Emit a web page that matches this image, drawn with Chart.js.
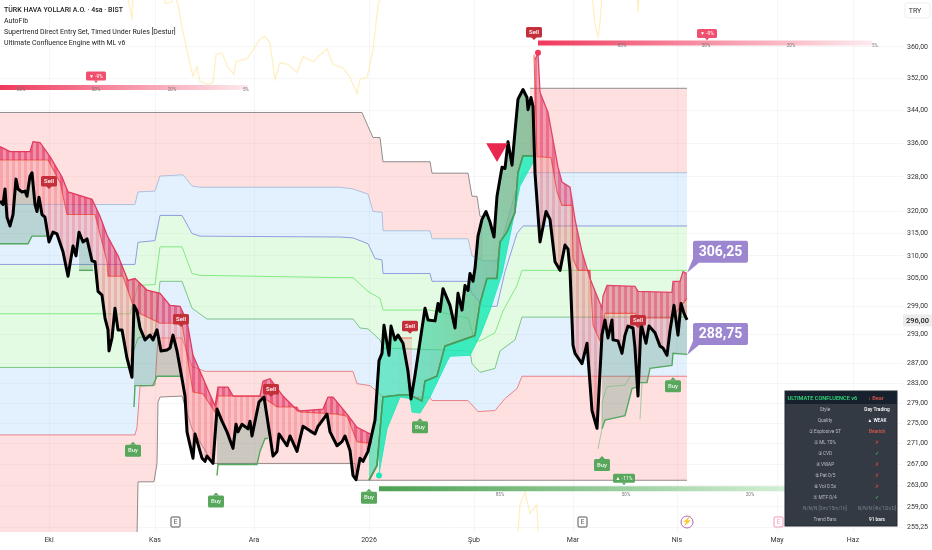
<!DOCTYPE html>
<html>
<head>
<meta charset="utf-8">
<style>
  html, body { margin: 0; padding: 0; background: #fff; }
  canvas { display: block; }
</style>
<script src="https://cdn.jsdelivr.net/npm/chart.js@4/dist/chart.umd.min.js"></script>
</head>
<body>
<canvas id="chart" width="932" height="550"></canvas>
<script>
// all series are [bar, price] pairs, bars are 4h candles counted from the left edge
const monthBars = [24.5, 77.5, 127, 184.5, 237, 286.5, 338.5, 388.5, 426.5];
const monthLabels = ['Eki', 'Kas', 'Ara', '2026', 'Şub', 'Mar', 'Nis', 'May', 'Haz'];
const priceTicks = [360, 352, 344, 336, 328, 320, 315, 310, 305, 299, 293, 287, 283, 279, 275, 271, 267, 263, 259, 255.25];

const closeSeries = [[0,322.4],[1.5,321.6],[2.5,325.2],[3.5,318.7],[5,316.7],[6.5,319.3],[8,327.5],[9,325.2],[11,324.5],[12.5,324.7],[13.5,323.5],[15,328.2],[16,329],[17.5,321.6],[18.5,320],[19.5,323.3],[21,319.3],[22.5,318.7],[24.5,313.1],[26.5,315.3],[28.5,314.9],[31.5,310.9],[34,305.5],[36.5,312.2],[38,310],[39.5,315.3],[41.5,313.1],[43.5,313.8],[46,308.9],[47.5,308.7],[49,302.2],[51,301.4],[52.5,296.5],[54,294],[54.5,289.6],[56,292.3],[57.5,298.6],[59,294],[61,294],[63.5,288.1],[66,284.2],[67,299.2],[68.5,298],[70,294.4],[72.5,291.9],[75,292.9],[76.5,291.9],[78.5,294],[80.5,289.6],[83.5,289.8],[85,290.2],[86.5,292.9],[88.5,289.6],[91,283.9],[92.5,280.4],[93.5,273.3],[96.5,268.2],[97.5,272.9],[101,268.2],[102.5,267.6],[103.5,268.6],[106.5,267.2],[108.5,277.8],[111,275.4],[113.5,273.3],[116.5,270.1],[118,274.8],[119,273.3],[121,274.8],[124,273.9],[125,275.4],[126,272.5],[129.5,279.2],[132,280.2],[135,272.5],[136.5,268.6],[138.5,269.5],[139.5,272.9],[143.5,270.6],[145,272.5],[148.5,269.5],[150,272],[151.5,274.4],[155,273.5],[157.5,272.9],[159,274.4],[163.5,276.8],[165,273.3],[168.5,270.6],[171,271.4],[172.5,272.5],[175,269.7],[176.5,264.9],[178,264.1],[180,268.2],[181.5,267.6],[184,269.5],[187.5,275.6],[189.5,287.6],[191,289.1],[192,295],[194.5,288.7],[195.5,294.8],[197.5,291.9],[199,292.9],[201.5,291.2],[204,285.4],[205.5,279.8],[207.5,284.6],[212.5,298.6],[214,296.1],[217.5,295.9],[219,299.6],[220,297.9],[221.5,302.8],[225,299.2],[227.5,294.4],[229,301.8],[231,298.2],[232.5,303.5],[234,302.4],[235,306.1],[236.5,304.4],[237.5,307.2],[239,314.4],[241,318.2],[243,320],[245,317.6],[247,314.2],[248.5,323.5],[251,330.3],[252.5,330],[254,336.4],[256,330.8],[257.5,338.9],[259,346.8],[261.5,349.2],[263.5,347.2],[264,344.2],[265.5,347.2],[266.5,345],[267.5,328.9],[270,313.1],[273,320],[275,318.2],[277.5,308.7],[280,306.8],[282.5,312.4],[284,311.5],[285,306.8],[286.5,290.8],[287.5,289.1],[291,287],[293.5,291.2],[296,277.5],[298.5,274],[301,293],[302.5,296.1],[304,292.3],[306,296.1],[306.5,291.9],[309,291.7],[311,289.1],[312.5,292.9],[314,294.8],[316.5,294.4],[317.5,290.2],[319,280.4],[320.5,295.3],[323,291.2],[324.5,294.8],[327.5,293.4],[330,290.6],[331.5,290.2],[333.5,288.7],[335,293.8],[337,299.2],[339,292.9],[340.5,299.6],[342,297.5],[343.5,296.1]];

// AutoFib levels, top to bottom
const fibTopLeft = [[0,343.5],[181,343.5],[184,340.1],[186.5,337.4],[190,337.4],[191.5,331.6],[215,331.6],[216,328.9],[234,328.9],[236,323.5],[238.5,323.5],[240,318.9],[241.5,318.9]];
const fibTopRight = [[265,349.5],[343.5,349.5]];
const fibLevel1 = [[0,321.6],[67.5,321.6],[69,324.5],[77.5,324.7],[80,328.2],[91.5,328.5],[96,325.9],[100,325.6],[170,325.6],[176.5,325.2],[184,324],[186.5,320],[191,319.8],[191.5,315.6],[215,315.6],[216,313.8],[234,313.8],[236,310],[241.5,308.9],[248.5,308.9],[252.5,316],[257.5,324],[261.5,329],[343.5,329]];
const fibLevel2 = [[0,308.1],[67.5,308.1],[69,313],[77.5,313.4],[80,319.1],[91,319.1],[96,315],[100,314.4],[170,314.2],[176.5,314],[184,312.7],[187.5,309.4],[191,309.1],[191.5,306.1],[215,306.1],[216,304.4],[234,304.4],[236,301.8],[241.5,299],[248.5,299],[252.5,306.5],[258.5,315],[261.5,316.7],[343.5,316.7]];
const fibLevel3 = [[0,297.4],[65,297.4],[69,303.5],[77.5,303.7],[80,312],[91,312],[96,306.1],[100,305.7],[170,305.2],[176.5,305.2],[184,302.2],[190,300.7],[191.5,298.2],[215,298.2],[234,296.5],[237.5,291.7],[240,291.7],[247.5,293.4],[251.5,298],[258.5,303.5],[261,306.8],[343.5,306.8]];
const fibLevel4 = [[0,286.2],[64,286.2],[69,292.3],[77.5,293.4],[80,304.4],[91,304.4],[96,298.6],[103.5,296.3],[176.5,296.3],[180,294.4],[184,294.2],[190,291.9],[191.5,290.2],[235,289.6],[236,287],[240,285.2],[247.5,286],[250,289.6],[257.5,291.9],[261,296.7],[343.5,296.7]];
const fibLevel5 = [[0,272.7],[67.5,272.7],[68.5,274.2],[70,282.4],[77.5,282.6],[79,292.3],[91,292.3],[96,286.4],[102.5,285.4],[176.5,285.4],[178.5,282.9],[185,282.5],[188.5,281.3],[191.5,280.3],[215,280.1],[216,279.5],[234,279.5],[239,277.3],[247.5,277.5],[252.5,279.9],[258.5,281.9],[261,284.4],[343.5,284.4]];
const fibBottom = [[0,253.5],[68.5,253.5],[69,263.7],[77,263.7],[78.5,267.2],[79,279.2],[80,280.2],[91,280.4],[96,273.9],[106.5,267.2],[177.5,267.2],[178.5,264],[343.5,264]];

// sell side cloud: upper edge and the orange stop line inside it
const sellEdgeA = [[0,335.2],[5,334],[15,334],[16.5,336.4],[20,336.2],[25,332.8],[31,328],[34,324.5],[46,322.8],[50,318.9],[53.5,314.6],[59,310],[64,304.6],[67.5,305],[73.5,302.5],[80,301.8],[85,299.2],[90,299],[93.5,295.9],[96.5,288.7],[100,285.4],[107.5,278.4],[109,282.2],[114,282.2],[116.5,280.4],[130,280.4],[131.5,283.4],[135,283.9],[141.5,280.4],[149,277.4],[161.5,277.8],[164,280.2],[166.5,280.2],[173.5,276.8],[178.5,274.2],[186,272.7]];
const sellStopA = [[0,332],[24,332],[30,326.8],[33.5,319.3],[47.5,319.3],[53.5,308.7],[54,305.5],[61.5,305.5],[67.5,298],[80,295.4],[91,295.4],[93.5,288.7],[96.5,281.2],[101.5,280.8],[107.5,277.2],[109,280.4],[130,280.4],[135,279.2],[138.5,278.2],[148.5,278.2],[150,277.2],[168.5,276.8],[173.5,276.4],[178.5,271.4],[186,271]];
const sellEdgeB = [[267.5,356.7],[269,358.5],[270,348.5],[274,343.5],[279,330.3],[281,326.8],[285,325.6],[287.5,318.2],[291,310.9],[295,305],[301,298.6],[301.5,301.2],[303.5,303.5],[317.5,303.3],[319,302.2],[336,302],[336.5,304.4],[340,304.4],[341.5,306.5],[343.5,306.1]];
const sellStopB = [[267,358],[268.5,332.8],[275.5,332.6],[278.5,324.5],[281,321.4],[286,321.4],[286.5,309.4],[289,306.8],[295,306.8],[296.5,295],[300,291.7],[302.5,297.5],[317.5,297.5],[319,296.5],[336,296.5],[343.5,300.7]];
const sellPale = [[197,292.3],[206,292.3]];

// buy side support lines
const buyLineA = [[0,312.7],[14,312.7],[16,314.4],[23.5,314.4]];
const buyLineB = [[39.5,306.8],[46.5,306.8]];
const buyLineC = [[67,278.2],[67.5,282.5],[76.5,282.5],[78.5,284.4],[91.5,284.4]];
const buyLineD = [[108.5,264.9],[109,267],[128.5,267],[130,269.5],[132.5,272],[134,272]];
const buyLineE = [[184.5,264],[188.5,266.8],[191.5,280.2],[200,280.6],[205,280.6],[211,279.4],[212.5,283.4],[218.5,284.4],[222.5,290.6],[237.5,292.8],[240,299.6],[243.5,305],[248.5,305],[250,313.1],[253.5,315.3],[257.5,319.8],[259,329],[261.5,333],[266.5,333]];
const tealEdge = [[189.5,264.9],[190,266.3],[193.5,273.9],[200,280.2],[205,279.9],[206,277.2],[210,277],[215,280.2],[223.5,287.4],[225,288.5],[235,288.7],[240,292.8],[245,298.2],[251,306.1],[254,312.4],[260,325.9],[266.5,331.4]];
const buyLineF = [[301,273.9],[302.5,275.6],[312.5,276.5],[316,281.9],[319,282.3]];
const buyLineG = [[320,283.1],[323.5,283.1],[325,286],[336,286.6],[336.5,289.1],[343.5,288.9]];
const paleLineF = [[299,270],[301,273.9],[301,279.2],[303.5,282.3],[312.5,282.6],[315,284.4],[319,284.4]];
const paleLineG = [[320,275.8],[321,283.1]];

// faint overlay that runs off the top and bottom of the pane
const overlayTop = [[50,374],[63.5,374],[66,367.5],[66.5,374],[81.5,374],[82.5,371.4],[86,371.7],[86.5,374],[89,371.4],[91,365],[94,358],[96.5,352.5],[98.5,355],[100,351.2],[104,350.5],[106.5,351],[108,358],[111,358.5],[114,354.7],[117,353],[118,356.2],[123.5,357],[126.5,359.2],[130,362],[132.5,362.8],[135,361],[137.5,351.7],[140,356],[144,355.5],[148.5,353.5],[151.5,357.5],[156.5,356.2],[159,357.5],[163.5,359.5],[166.5,355.5],[171.5,354.7],[175,352.2],[178.5,348.2],[180,351.7],[183.5,352.2],[186.5,359.2],[189,371],[191,374],[296,374],[297.5,365.7],[299,362.6],[300,366.2],[301,374],[318.5,374],[319,369],[319.5,374]];
const overlayBottom = [[259,254.5],[260,259.5],[262.5,261.8],[265,257.8],[268.5,259.5],[269,254.5]];

// entry signals
const sellBars = [24.5, 90.5, 135.5, 205, 267, 319];
const sellPrices = [325.2, 294.6, 280.2, 293.2, 361.8, 294.4];
const buyBars = [66.5, 108, 184.5, 210, 301, 336.5];
const buyPrices = [271.4, 261.7, 262.4, 276, 268.6, 284.2];
const bigSignal = [[248.5, 334.5]];
const sellDot = [[269, 358.5]];
const buyDot = [[189.5, 264.9]];

// probability ribbons
const ribbonRedLeft = [[0, 349.7], [124, 349.7]];
const ribbonRedRight = [[269, 361], [436, 361]];
const ribbonGreen = [[189.5, 262.4], [395, 262.4]];
const ribbonTicks = [['85%', 10.5, 349], ['50%', 48, 349], ['20%', 86, 349], ['5%', 123, 349],
  ['85%', 311, 360.3], ['50%', 353, 360.3], ['20%', 395.5, 360.3], ['5%', 437.5, 360.3],
  ['85%', 250, 261.2], ['50%', 313, 261.2], ['20%', 375, 261.2]];
const ribbonTags = [['▼ -9%', 48, 352.6, '#f0506e'], ['▼ -9%', 353.5, 363.5, '#f0506e'], ['▲ -11%', 312, 264.4, '#58a75c']];

// the two levels of the plan
const planBars = [343.5, 343.5];
const planPrices = [306.25, 288.75];
const lastPrice = 296;

const legendLines = ['TÜRK HAVA YOLLARI A.O. · 4sa · BIST', 'AutoFib', 'Supertrend Direct Entry Set, Timed Under Rules [Destur]', 'Ultimate Confluence Engine with ML v6'];
const panelLabels = ['Style', 'Quality', '① Explosive ST', '② ML 70%', '③ CVD', '④ VWAP', '⑤ Pat 0/5', '⑥ Vol 0.5x', '⑦ MTF 0/4', 'N/N/N [5m/15m/1h]', 'Trend Bars'];
const panelValues = ['Day Trading', '▲ WEAK', 'Bearish', '✗', '✓', '✗', '✗', '✗', '✓', 'N/N/N [4h/12h/D]', '91 bars'];
const panelColors = ['#fff', '#fff', '#e0564f', '#e8433f', '#3fd46a', '#e8433f', '#e8433f', '#e8433f', '#3fd46a', '#79808a', '#fff'];
const earningsBars = [87.5, 291, 389];

const toPoints = s => s.map(([x, y]) => ({ x, y }));
const datasets = [];

// later entries are painted on top
function addLine(series, color, width, fillTo, fillColor) {
    const i = datasets.length;
    datasets.push({
        data: toPoints(series),
        borderColor: color,
        borderWidth: width,
        backgroundColor: fillColor || 'transparent',
        fill: fillTo === undefined ? false : fillTo,
        pointRadius: 0,
        tension: 0,
        order: -i
    });
    return i;
}

// thin vertical stripes, the cloud is drawn bar by bar in the original
function stripes(dark, light) {
    const cv = document.createElement('canvas');
    cv.width = 6;
    cv.height = 2;
    const c = cv.getContext('2d');
    c.fillStyle = dark;
    c.fillRect(0, 0, 3, 2);
    c.fillStyle = light;
    c.fillRect(3, 0, 3, 2);
    return c.createPattern(cv, 'repeat');
}

// left to right colour change of the long cloud
function sideFade(fromBar, toBar, from, to) {
    return ctx => {
        const { chart } = ctx;
        if (!chart.chartArea) return from;
        const x = chart.scales.x;
        const g = chart.ctx.createLinearGradient(x.getPixelForValue(fromBar), 0, x.getPixelForValue(toBar), 0);
        g.addColorStop(0, from);
        g.addColorStop(1, to);
        return g;
    };
}

const zoneRed = 'rgba(248,60,70,.16)', zoneBlue = 'rgba(60,150,245,.14)', zoneGreen = 'rgba(70,230,70,.15)';

// fill partners come first so the indices are known
const iBottom = addLine(fibBottom, '#8e8e8e', 1);
const i5 = addLine(fibLevel5, '#f58282', 1, iBottom, zoneRed);
const i4 = addLine(fibLevel4, '#7fc48a', 1, i5, zoneBlue);
const i3 = addLine(fibLevel3, '#86ea86', 1, i4, zoneGreen);
const i2 = addLine(fibLevel2, '#959fdc', 1, i3, zoneGreen);
const i1 = addLine(fibLevel1, '#a5cdea', 1, i2, zoneBlue);
addLine(fibTopLeft, '#8e8e8e', 1, i1, zoneRed);
addLine(fibTopRight, '#8e8e8e', 1, i1, zoneRed);
addLine(overlayTop, 'rgba(255,224,130,.5)', 1.2);
addLine(overlayBottom, 'rgba(255,224,130,.5)', 1.2);

// close is needed as a fill target, keep a hidden copy low in the stack
const iCloseBase = addLine(closeSeries, 'transparent', 0);

const greenFill = 'rgba(50,125,85,.24)';
for (const s of [buyLineA, buyLineB, buyLineC, buyLineD, buyLineF, buyLineG]) addLine(s, '#55a860', 1.4, iCloseBase, greenFill);
addLine(paleLineF, 'rgba(110,185,120,.6)', 1);
addLine(paleLineG, 'rgba(110,185,120,.6)', 1);

const iLineE = addLine(buyLineE, '#4f9a5a', 1.6, iCloseBase, sideFade(195, 262, 'rgba(45,225,170,.62)', 'rgba(95,165,115,.68)'));
addLine(tealEdge, 'rgba(30,233,182,.9)', 1, iLineE, 'rgba(30,233,182,.85)');
addLine(buyLineE, '#4f9a5a', 1.6);

const iStopA = addLine(sellStopA, 'rgba(240,90,60,.9)', 1.1, iCloseBase, stripes('rgba(240,110,120,.5)', 'rgba(246,140,150,.38)'));
addLine(sellEdgeA, '#e23a5e', 1.3, iStopA, stripes('rgba(222,35,90,.68)', 'rgba(232,70,110,.52)'));
const iStopB = addLine(sellStopB, 'rgba(240,90,60,.9)', 1.1, iCloseBase, stripes('rgba(225,100,105,.48)', 'rgba(235,130,135,.36)'));
addLine(sellEdgeB, '#e0446a', 1.3, iStopB, stripes('rgba(222,40,90,.62)', 'rgba(232,75,110,.48)'));
addLine(sellPale, 'rgba(240,90,60,.8)', 1.1, iCloseBase, 'rgba(240,120,120,.25)');

addLine(closeSeries, '#000', 3);
datasets[datasets.length - 1].borderJoinStyle = 'round';

function ribbon(series, from, to) {
    const i = addLine(series, from, 5);
    datasets[i].borderCapStyle = 'butt';
    datasets[i].borderColor = sideFade(series[0][0], series[1][0], from, to);
}
ribbon(ribbonRedLeft, '#f0385c', '#fdeaee');
ribbon(ribbonRedRight, '#f0385c', '#fdeaee');
ribbon(ribbonGreen, '#4ba052', '#d3f0d5');

function marker(series, color, radius, style, rotation) {
    const i = addLine(series, color, 0);
    Object.assign(datasets[i], {
        showLine: false, pointRadius: radius, pointStyle: style, rotation: rotation || 0,
        pointBackgroundColor: color, pointBorderWidth: 0
    });
}
marker(bigSignal, '#e8264f', 12.5, 'triangle', 180);
marker(sellDot, '#f0385c', 3, 'circle');
marker(buyDot, '#1de9b6', 3, 'circle');

function roundBox(c, x, y, w, h, r) {
    c.beginPath();
    c.roundRect(x, y, w, h, r);
}

const overlays = {
    id: 'overlays',
    afterDraw(chart) {
        const c = chart.ctx, xs = chart.scales.x, ys = chart.scales.y;
        const px = b => xs.getPixelForValue(b), py = p => ys.getPixelForValue(p);
        c.save();
        c.textBaseline = 'middle';

        // ribbon ticks and tags
        c.textAlign = 'center';
        c.font = '4.5px Roboto';
        c.fillStyle = '#777';
        ribbonTicks.forEach(([t, b, p]) => c.fillText(t, px(b), py(p)));
        ribbonTags.forEach(([t, b, p, col]) => {
            const w = t.length > 5 ? 22 : 20;
            c.fillStyle = col;
            roundBox(c, px(b) - w / 2, py(p) - 4.5, w, 9, 1.5);
            c.fill();
            c.beginPath();
            c.moveTo(px(b) - 2, py(p) + 4.5); c.lineTo(px(b) + 2, py(p) + 4.5); c.lineTo(px(b), py(p) + 7);
            c.fill();
            c.fillStyle = '#fff';
            c.font = '5px Roboto';
            c.fillText(t, px(b), py(p) + .5);
        });

        // Sell / Buy tags, anchored on the tip
        c.font = '500 6px Roboto';
        sellBars.forEach((b, i) => {
            const x = px(b), y = py(sellPrices[i]);
            c.fillStyle = '#c4303a';
            roundBox(c, x - 8, y - 13, 16, 10.5, 1.5);
            c.fill();
            c.beginPath();
            c.moveTo(x - 3, y - 3); c.lineTo(x + 3, y - 3); c.lineTo(x, y);
            c.fill();
            c.fillStyle = '#fff';
            c.fillText('Sell', x, y - 7.5);
        });
        buyBars.forEach((b, i) => {
            const x = px(b), y = py(buyPrices[i]);
            c.fillStyle = '#58a75c';
            roundBox(c, x - 8, y + 3, 16, 12, 1.5);
            c.fill();
            c.beginPath();
            c.moveTo(x - 3, y + 3); c.lineTo(x + 3, y + 3); c.lineTo(x, y);
            c.fill();
            c.fillStyle = '#e8f5e9';
            c.fillText('Buy', x, y + 9);
        });

        // plan callouts
        planBars.forEach((b, i) => {
            const x = px(b), y = py(planPrices[i]);
            c.fillStyle = '#9c86cf';
            roundBox(c, x + 6, y - 32, 55, 22, 2);
            c.fill();
            c.beginPath();
            c.moveTo(x + 6, y - 14); c.lineTo(x + 12, y - 10); c.lineTo(x, y);
            c.fill();
            c.fillStyle = '#fff';
            c.font = 'bold 14px Roboto';
            c.fillText(planPrices[i].toFixed(2).replace('.', ','), x + 33.5, y - 20.5);
        });

        // last price on the axis
        c.fillStyle = '#ececec';
        c.fillRect(903, py(lastPrice) - 6, 29, 12);
        c.fillStyle = '#222';
        c.font = '500 7.5px Roboto';
        c.textAlign = 'left';
        c.fillText(lastPrice.toFixed(2).replace('.', ','), 906, py(lastPrice) + .5);

        // TRY button
        c.fillStyle = '#fff';
        c.strokeStyle = '#eee';
        roundBox(c, 905, 3, 25, 15, 2);
        c.fill(); c.stroke();
        c.fillStyle = '#333';
        c.font = '7px Roboto';
        c.textAlign = 'center';
        c.fillText('TRY', 915, 11);

        // legend lines
        c.textAlign = 'left';
        legendLines.forEach((t, i) => {
            c.font = (i === 0 ? '500 ' : '') + '7px Roboto';
            c.fillStyle = '#222';
            c.fillText(t, 4, 10.5 + i * 11);
        });

        // earnings marks along the bottom
        earningsBars.forEach((b, i) => {
            const x = px(b), col = i === 2 ? '#f59ab5' : '#555';
            c.fillStyle = '#fff';
            c.strokeStyle = col;
            roundBox(c, x - 4, 517, 9, 10, 1);
            c.fill(); c.stroke();
            c.fillStyle = col;
            c.font = '6.5px Roboto';
            c.textAlign = 'center';
            c.fillText('E', x + .5, 522.5);
        });
        const bolt = px(343.5);
        c.strokeStyle = '#b565b5';
        c.beginPath();
        c.arc(bolt, 522, 6, 0, Math.PI * 2);
        c.stroke();
        c.fillStyle = '#b565b5';
        c.font = '8px Roboto';
        c.fillText('⚡', bolt, 522);

        // confluence panel
        c.fillStyle = '#343a44';
        c.fillRect(785, 391, 112, 135);
        c.fillStyle = '#17212e';
        c.fillRect(785, 391, 112, 13);
        c.strokeStyle = '#222831';
        c.strokeRect(785, 391, 112, 135);
        c.fillStyle = '#2fe57c';
        c.font = '500 5.6px Roboto';
        c.textAlign = 'left';
        c.fillText('ULTIMATE CONFLUENCE v6', 787.5, 398.5);
        c.fillStyle = '#e0564f';
        c.textAlign = 'center';
        c.fillText('↓ Bear', 876, 398.5);
        panelLabels.forEach((t, i) => {
            const y = 410 + i * 11;
            c.font = '4.8px Roboto';
            c.fillStyle = i === 9 ? '#79808a' : '#b8bcc3';
            c.fillText(t, 825, y);
            c.font = (i === 9 ? '' : '500 ') + '4.8px Roboto';
            c.fillStyle = panelColors[i];
            c.fillText(panelValues[i], 877, y);
        });
        c.restore();
    }
};

// stop the axes from reserving room for their outer labels
function noPadding(s) {
    s.paddingLeft = s.paddingRight = s.paddingTop = s.paddingBottom = 0;
}

document.addEventListener('DOMContentLoaded', () => {
    const ctx = document.getElementById('chart').getContext('2d');
    new Chart(ctx, {
        type: 'line',
        data: { datasets },
        plugins: [overlays],
        options: {
            responsive: false,
            animation: false,
            parsing: true,
            layout: { padding: 0, autoPadding: false },
            plugins: { legend: { display: false }, tooltip: { enabled: false }, filler: { propagate: false } },
            scales: {
                x: {
                    type: 'linear',
                    min: 0,
                    max: 451.5,
                    afterBuildTicks: s => { s.ticks = monthBars.map(value => ({ value })); },
                    afterFit: s => { s.height = 18; noPadding(s); },
                    grid: { color: 'rgba(0,0,0,.035)', drawTicks: false },
                    border: { display: false },
                    ticks: {
                        autoSkip: false, maxRotation: 0, padding: 4,
                        color: '#333', font: { family: 'Roboto', size: 7 },
                        callback: v => monthLabels[monthBars.indexOf(v)]
                    }
                },
                y: {
                    type: 'logarithmic',
                    position: 'right',
                    min: 254.4,
                    max: 372.3,
                    afterBuildTicks: s => { s.ticks = priceTicks.map(value => ({ value })); },
                    afterFit: s => { s.width = 29; noPadding(s); },
                    grid: { color: 'rgba(0,0,0,.035)', drawTicks: false },
                    border: { display: false },
                    ticks: {
                        autoSkip: false, padding: 4,
                        color: '#333', font: { family: 'Roboto', size: 7 },
                        callback: v => v.toFixed(2).replace('.', ',')
                    }
                }
            }
        }
    });
});
</script>
</body>
</html>
